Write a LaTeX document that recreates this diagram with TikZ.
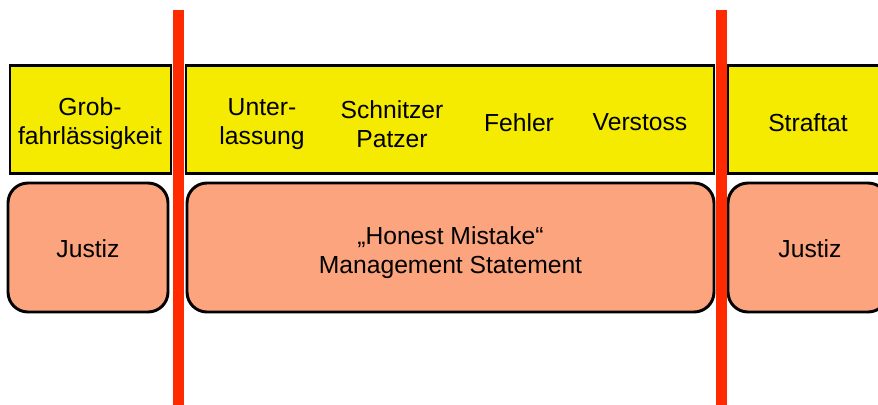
\documentclass[tikz,border=0pt]{standalone}
\usepackage{fontspec}
\setmainfont{Liberation Sans}
\definecolor{ylw}{HTML}{F4EB00}
\definecolor{salmon}{HTML}{FCA47E}
\definecolor{redline}{HTML}{FF2A00}
\begin{document}
\begin{tikzpicture}[x=0.75pt,y=-0.75pt,
  font=\fontsize{18.5}{21.6}\selectfont,
  ybox/.style={draw=black,line width=2.2pt,fill=ylw,inner sep=0pt,align=center},
  obox/.style={draw=black,line width=2.2pt,fill=salmon,rounded corners=15pt,inner sep=0pt,align=center},
  lbl/.style={inner sep=0pt,align=center},
  divider/.style={draw=redline,line width=8.2pt}]
\useasboundingbox (0,0) rectangle (878,404);
\clip (0,0) rectangle (878,404);
% yellow row
\node[ybox,minimum width={161*0.75pt},minimum height={108*0.75pt}] (y1) at (90.5,119.5) {};
\node[ybox,minimum width={528*0.75pt},minimum height={108*0.75pt}] (y2) at (450,119.5) {};
\node[ybox,minimum width={160*0.75pt},minimum height={108*0.75pt}] (y3) at (808,119.5) {};
\node[lbl] (t0) at (90,124) {Grob-\\fahrlässigkeit};
\node[lbl] (t1) at (262,124) {Unter-\\lassung};
\node[lbl] (t2) at (392,124) {Schnitzer\\Patzer};
\node[lbl] (t3) at (519,122.5) {Fehler};
\node[lbl] (t4) at (640,122.5) {Verstoss};
\node[lbl] (t5) at (808,122.5) {Straftat};
% salmon row
\node[obox,minimum width={160*0.75pt},minimum height={129*0.75pt}] (o1) at (88,247.5) {};
\node[obox,minimum width={527*0.75pt},minimum height={129*0.75pt}] (o2) at (450.5,247.5) {};
\node[obox,minimum width={160*0.75pt},minimum height={129*0.75pt}] (o3) at (808,247.5) {};
\node[lbl] (u1) at (88,249) {Justiz};
\node[lbl] (u2) at (450.5,252.5) {„Honest Mistake“\\Management Statement};
\node[lbl] (u3) at (810,249) {Justiz};
% red dividers
\coordinate (r1t) at (178.5,10);
\coordinate (r1b) at (178.5,410);
\coordinate (r2t) at (721.5,10);
\coordinate (r2b) at (721.5,410);
\draw[divider] (r1t) -- (r1b);
\draw[divider] (r2t) -- (r2b);
\end{tikzpicture}
\end{document}
